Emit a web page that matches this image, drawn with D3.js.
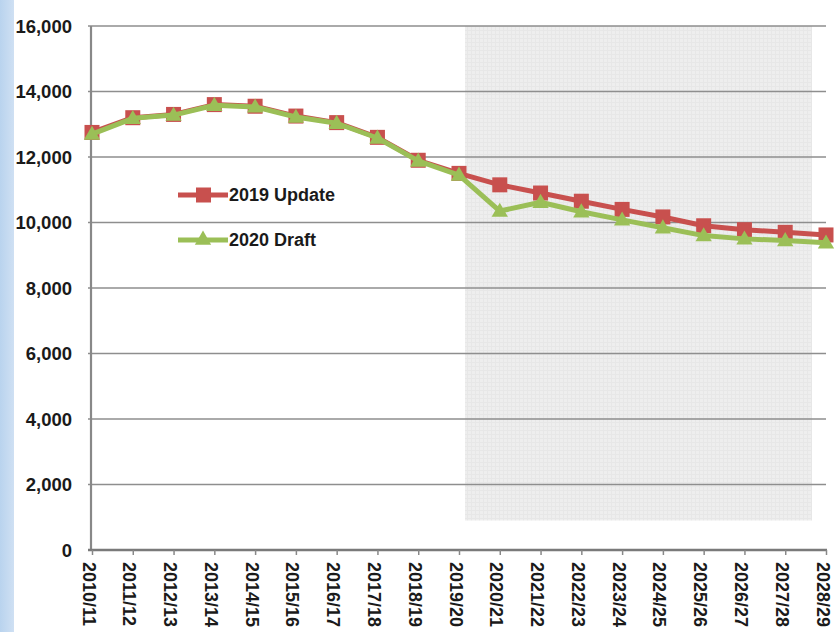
<!DOCTYPE html>
<html>
<head>
<meta charset="utf-8">
<script src="https://cdn.jsdelivr.net/npm/d3@7/dist/d3.min.js"></script>
<style>
  body { margin: 0; background: #fff; }
  svg { display: block; }
  text { font-family: "Liberation Sans", Arial, sans-serif; font-weight: bold; fill: #1a1a1a; }
</style>
</head>
<body>
<div id="chart"></div>
<script>
// chart data
var years = ["2010/11", "2011/12", "2012/13", "2013/14", "2014/15", "2015/16", "2016/17",
             "2017/18", "2018/19", "2019/20", "2020/21", "2021/22", "2022/23", "2023/24",
             "2024/25", "2025/26", "2026/27", "2027/28", "2028/29"];
var update2019 = [12750, 13200, 13300, 13600, 13550, 13250, 13050, 12600, 11900, 11500,
                  11150, 10900, 10650, 10400, 10170, 9900, 9780, 9700, 9620];
var draft2020 = [12700, 13180, 13280, 13580, 13530, 13220, 13030, 12580, 11880, 11450,
                 10350, 10620, 10330, 10080, 9840, 9600, 9500, 9450, 9380];
var yTicks = [0, 2000, 4000, 6000, 8000, 10000, 12000, 14000, 16000];
var seriesNames = ["2019 Update", "2020 Draft"];

var W = 840, H = 632;
var margin = {top: 26, right: 14, bottom: 82, left: 91};
var width = W - margin.left - margin.right;
var height = H - margin.top - margin.bottom;

var svg = d3.select("#chart").append("svg")
    .attr("width", W)
    .attr("height", H);

var defs = svg.append("defs");
var grad = defs.append("linearGradient").attr("id", "side").attr("x1", 0).attr("x2", 1);
grad.append("stop").attr("offset", 0).attr("stop-color", "#b9d3ee");
grad.append("stop").attr("offset", 1).attr("stop-color", "#cfe0f3");

var pat = defs.append("pattern").attr("id", "shade")
    .attr("width", 4).attr("height", 4).attr("patternUnits", "userSpaceOnUse");
pat.append("rect").attr("width", 4).attr("height", 4).attr("fill", "#eeeeee");
pat.append("path").attr("d", "M0,0.5H4M0.5,0V4").attr("stroke", "#e7e7e7").attr("stroke-width", 1);

// light blue strip on the left edge
svg.append("rect").attr("x", 0).attr("y", 0).attr("width", 14).attr("height", H)
    .attr("fill", "url(#side)");

var g = svg.append("g").attr("transform", "translate(" + margin.left + "," + margin.top + ")");

var x = d3.scalePoint().domain(years).range([1, width]);
var y = d3.scaleLinear().domain([0, 16000]).range([height, 0]);

// shaded forecast region
g.append("rect")
    .attr("x", x("2019/20") + 6)
    .attr("y", y(16000))
    .attr("width", x("2028/29") - 14 - (x("2019/20") + 6))
    .attr("height", y(900) - y(16000))
    .attr("fill", "url(#shade)");

// gridlines
g.selectAll(".grid").data(yTicks.filter(function(d) { return d > 0; }))
  .enter().append("line")
    .attr("class", "grid")
    .attr("x1", -3).attr("x2", width)
    .attr("y1", function(d) { return y(d); })
    .attr("y2", function(d) { return y(d); })
    .attr("stroke", "#8e8e8e")
    .attr("stroke-width", 1.6);

// y axis
var yAxis = g.append("g").call(d3.axisLeft(y).tickValues(yTicks).tickSize(0).tickPadding(19)
    .tickFormat(d3.format(",")));
yAxis.select(".domain").remove();
yAxis.selectAll("text").style("font-size", "18.5px").attr("dy", "0.35em");
g.append("line").attr("x1", 0).attr("x2", 0).attr("y1", 0).attr("y2", height)
    .attr("stroke", "#888").attr("stroke-width", 2.2);

// x axis
var xAxis = g.append("g").attr("transform", "translate(0," + height + ")")
    .call(d3.axisBottom(x).tickSize(5).tickPadding(10));
xAxis.select(".domain").attr("d", "M-3,0H" + (width + 1)).attr("stroke", "#7a7a7a").attr("stroke-width", 2.4);
xAxis.selectAll(".tick line").attr("stroke", "#888").attr("stroke-width", 1.5);
xAxis.selectAll("text")
    .style("font-size", "18px")
    .attr("text-anchor", "start")
    .attr("x", 12).attr("y", 0).attr("dy", "0.33em")
    .attr("transform", "translate(-4,0) rotate(90)");

// series
var red = "#c8504e", green = "#9bbf57";
var line = d3.line().x(function(d, i) { return x(years[i]); }).y(function(d) { return y(d); });

g.append("path").datum(update2019).attr("d", line)
    .attr("fill", "none").attr("stroke", red).attr("stroke-width", 5)
    .attr("stroke-linejoin", "round");
g.selectAll(".sq").data(update2019).enter().append("rect")
    .attr("x", function(d, i) { return x(years[i]) - 7.5; })
    .attr("y", function(d) { return y(d) - 7.5; })
    .attr("width", 15).attr("height", 15).attr("fill", red);

g.append("path").datum(draft2020).attr("d", line)
    .attr("fill", "none").attr("stroke", green).attr("stroke-width", 5)
    .attr("stroke-linejoin", "round");
var tri = d3.symbol().type(d3.symbolTriangle).size(115);
g.selectAll(".tri").data(draft2020).enter().append("path")
    .attr("d", tri)
    .attr("transform", function(d, i) { return "translate(" + x(years[i]) + "," + (y(d) + 1) + ")"; })
    .attr("fill", green);

// legend
var leg = svg.append("g").attr("transform", "translate(178,195)");
[red, green].forEach(function(c, i) {
  var row = leg.append("g").attr("transform", "translate(0," + (i * 45) + ")");
  row.append("line").attr("x1", 0).attr("x2", 50).attr("y1", 0).attr("y2", 0)
      .attr("stroke", c).attr("stroke-width", 5);
  if (i === 0) {
    row.append("rect").attr("x", 18).attr("y", -7.5).attr("width", 15).attr("height", 15).attr("fill", c);
  } else {
    row.append("path").attr("d", tri).attr("transform", "translate(25,0)").attr("fill", c);
  }
  row.append("text").attr("x", 51).attr("y", 0).attr("dy", "0.35em")
      .style("font-size", "18px").text(seriesNames[i]);
});
</script>
</body>
</html>
